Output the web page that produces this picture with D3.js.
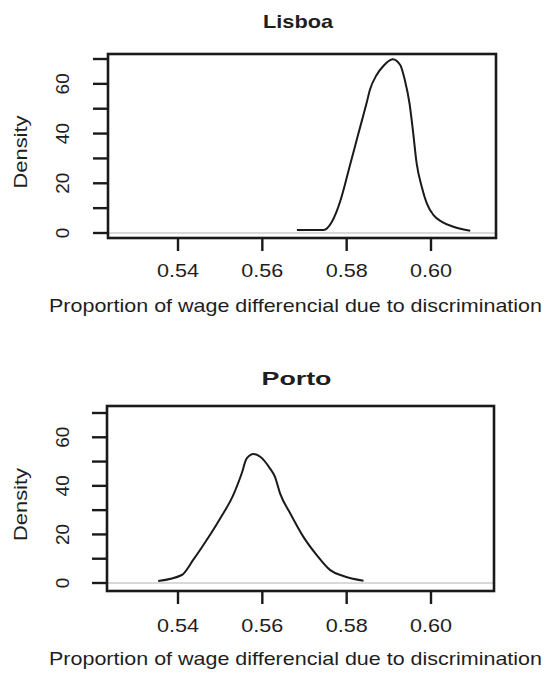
<!DOCTYPE html>
<html><head><meta charset="utf-8">
<script src="https://cdn.jsdelivr.net/npm/d3@7"></script>
<style>body{margin:0;background:#fff}svg{display:block}text{font-family:"Liberation Sans",Arial,Helvetica,sans-serif;fill:#1e1e1e}</style>
</head><body>
<script>
// ---- data ----
const panelTitles = ["Lisboa", "Porto"];
const xTicks = [0.54, 0.56, 0.58, 0.60];
const xTickLabels = ["0.54", "0.56", "0.58", "0.60"];
const yTicks = [0, 10, 20, 30, 40, 50, 60, 70];
const yTickLabels = ["0", "20", "40", "60"];
const yLabelValues = [0, 20, 40, 60];
const xTitle = "Proportion of wage differencial due to discrimination";
const yTitle = "Density";

const lisboaX = [0.5682,0.5745,0.5765,0.5776,0.5788,0.5808,0.5828,0.5848,0.5855,0.5871,0.5887,0.5909,0.5927,0.5938,0.5949,0.5957,0.5966,0.5978,0.5990,0.6006,0.6026,0.6053,0.6093];
const lisboaY = [1.2,1.2,4.5,8.6,14.6,27.4,40.1,52.8,57.5,63.6,67.2,69.9,67.6,61.5,52.2,41.4,28.0,18.6,11.9,7.2,4.5,2.5,0.9];
const portoX = [0.5353,0.5409,0.5436,0.5468,0.5500,0.5531,0.5551,0.5563,0.5579,0.5595,0.5618,0.5630,0.5642,0.5666,0.5697,0.5729,0.5761,0.5792,0.5840];
const portoY = [0.8,3.3,9.5,17.7,26.6,36.2,45.1,51.3,53.1,52.0,47.2,43.7,36.9,28.7,19.1,11.5,5.3,2.9,0.9];

const W = 550, H = 674;
const svg = d3.select("body").append("svg").attr("width", W).attr("height", H);

const panels = [
  {title: panelTitles[0], xs: lisboaX, ys: lisboaY, box: {l:108, r:496, t:54, b:238}, y0:233, y70:59, titleY:28, tickLabY:277, axTitleY:312},
  {title: panelTitles[1], xs: portoX, ys: portoY, box: {l:107, r:494, t:406, b:591}, y0:583, y70:413, titleY:385, tickLabY:632, axTitleY:665}
];

const FS = 19;
panels.forEach(p => {
  const g = svg.append("g");
  const x = d3.scaleLinear().domain([0.54, 0.60]).range([178, 431]);
  const y = d3.scaleLinear().domain([0, 70]).range([p.y0, p.y70]);
  const b = p.box;

  // gray zero line
  g.append("line").attr("x1", b.l).attr("x2", b.r).attr("y1", y(0)).attr("y2", y(0))
    .attr("stroke", "#b4b4b4").attr("stroke-width", 1.2);

  // density curve
  const pts = p.xs.map((v, i) => [v, p.ys[i]]);
  g.append("path").datum(pts)
    .attr("d", d3.line().x(d => x(d[0])).y(d => y(d[1])).curve(d3.curveMonotoneX))
    .attr("fill", "none").attr("stroke", "#1a1a1a").attr("stroke-width", 2)
    .attr("stroke-linejoin", "round");

  // box
  g.append("rect").attr("x", b.l).attr("y", b.t).attr("width", b.r - b.l).attr("height", b.b - b.t)
    .attr("fill", "none").attr("stroke", "#1a1a1a").attr("stroke-width", 2.6);

  // x ticks
  g.selectAll(".xt").data(xTicks).enter().append("line")
    .attr("x1", d => x(d)).attr("x2", d => x(d)).attr("y1", b.b).attr("y2", b.b + 13)
    .attr("stroke", "#1a1a1a").attr("stroke-width", 2.4);
  g.selectAll(".xl").data(xTicks).enter().append("text")
    .attr("x", d => x(d)).attr("y", p.tickLabY).attr("text-anchor", "middle")
    .attr("font-size", FS).attr("textLength", 42).attr("lengthAdjust", "spacingAndGlyphs")
    .text((d, i) => xTickLabels[i]);

  // y ticks
  g.selectAll(".yt").data(yTicks).enter().append("line")
    .attr("x1", b.l - 15).attr("x2", b.l).attr("y1", d => y(d)).attr("y2", d => y(d))
    .attr("stroke", "#1a1a1a").attr("stroke-width", 2.4);
  g.selectAll(".yl").data(yLabelValues).enter().append("text")
    .attr("transform", d => `translate(69,${y(d)}) rotate(-90)`)
    .attr("text-anchor", "middle").attr("font-size", FS)
    .text((d, i) => yTickLabels[i]);

  // titles
  g.append("text").attr("x", (b.l + b.r) / 2 - 4).attr("y", p.titleY).attr("text-anchor", "middle")
    .attr("font-size", FS).attr("font-weight", "bold").attr("textLength", 70).attr("lengthAdjust", "spacingAndGlyphs")
    .text(p.title);
  g.append("text").attr("x", 295.5).attr("y", p.axTitleY).attr("text-anchor", "middle")
    .attr("font-size", FS).attr("textLength", 493).attr("lengthAdjust", "spacingAndGlyphs")
    .text(xTitle);
  g.append("text").attr("transform", `translate(27,${(b.t + b.b) / 2 + 6}) rotate(-90)`)
    .attr("text-anchor", "middle").attr("font-size", FS).attr("textLength", 73).attr("lengthAdjust", "spacingAndGlyphs")
    .text(yTitle);
});
</script>
</body></html>
